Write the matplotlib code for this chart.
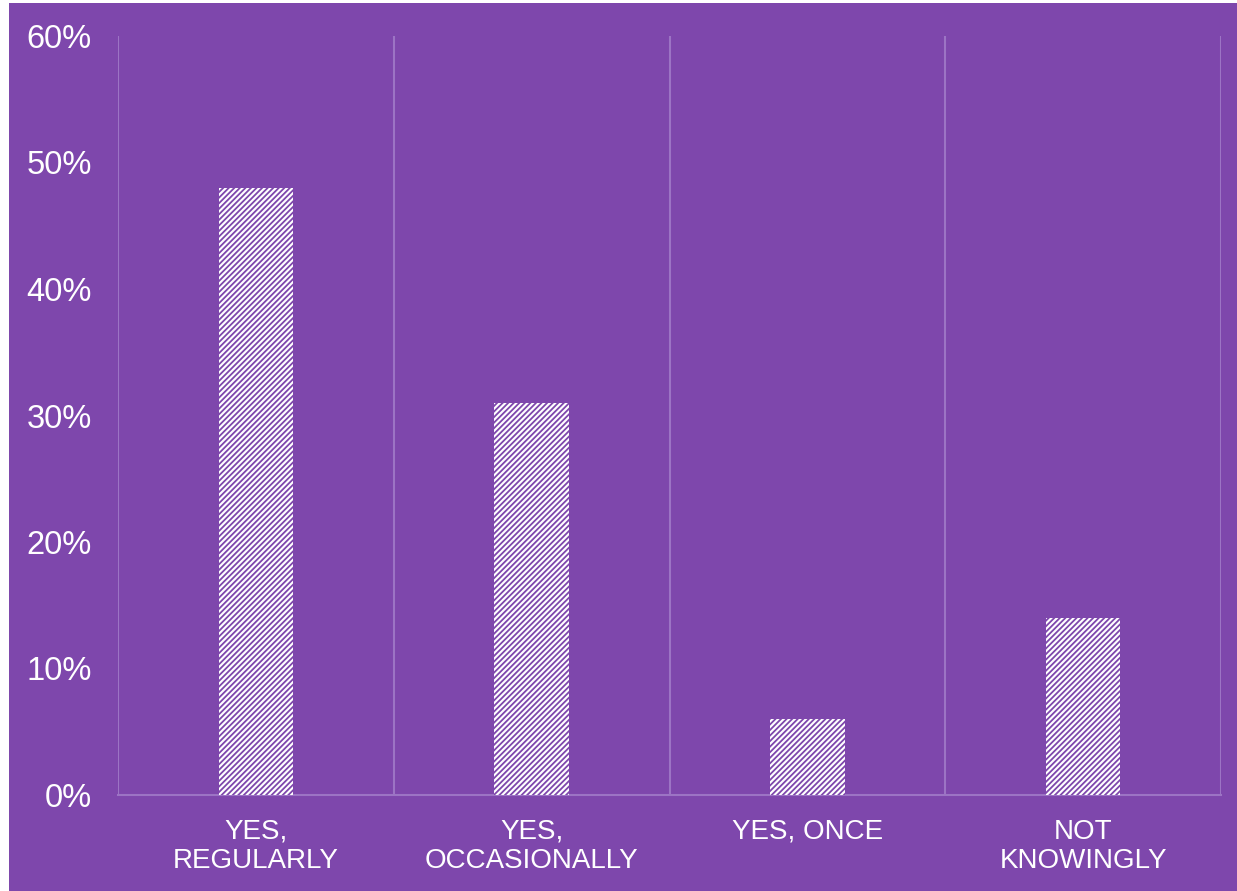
import numpy as np
import matplotlib
matplotlib.use("Agg")
import matplotlib.pyplot as plt
from matplotlib.patches import Rectangle
from matplotlib.ticker import PercentFormatter

categories = ["YES,\nREGULARLY", "YES,\nOCCASIONALLY", "YES, ONCE", "NOT\nKNOWINGLY"]
values = [48, 31, 6, 14]
y_ticks = [0, 10, 20, 30, 40, 50, 60]

purple = "#7E47AC"
grid_col = "#9C74C4"

plt.rcParams["font.family"] = ["Liberation Sans", "DejaVu Sans"]
plt.rcParams["hatch.color"] = purple
plt.rcParams["hatch.linewidth"] = 1.3

fig = plt.figure(figsize=(12.37, 8.91), dpi=100, facecolor="white")
# purple panel behind the chart (small white margin at left/top)
fig.patches.append(Rectangle((9 / 1237, 0), 1 - 9 / 1237, 1 - 3 / 891,
                             transform=fig.transFigure, facecolor=purple,
                             edgecolor="none", zorder=0))

ax = fig.add_axes([118 / 1237, (891 - 795) / 891, (1221 - 118) / 1237, (795 - 36) / 891])
ax.set_zorder(5)
ax.set_facecolor("none")

x = np.arange(len(categories))
ax.bar(x, values, width=0.27, color="white", hatch="//////", edgecolor=purple,
       linewidth=0, zorder=3)

ax.set_xlim(-0.5, len(categories) - 0.5)
ax.set_ylim(0, 60)
ax.set_yticks(y_ticks)
ax.yaxis.set_major_formatter(PercentFormatter(decimals=0))
ax.set_xticks(x)
ax.set_xticklabels(categories)
ax.set_xticks(np.arange(-0.5, len(categories)), minor=True)
ax.grid(True, which="minor", axis="x", color=grid_col, linewidth=1.5)
ax.tick_params(axis="both", which="both", length=0)
ax.tick_params(axis="y", labelsize=23.5, labelcolor="white", pad=19)
ax.tick_params(axis="x", labelsize=20, labelcolor="white", pad=17)
for lab in ax.get_xticklabels():
    lab.set_linespacing(1.15)

for s in ["top", "left", "right"]:
    ax.spines[s].set_visible(False)
ax.spines["bottom"].set_color(grid_col)
ax.spines["bottom"].set_linewidth(1.5)

fig.savefig("out.png", dpi=100, facecolor=fig.get_facecolor())
